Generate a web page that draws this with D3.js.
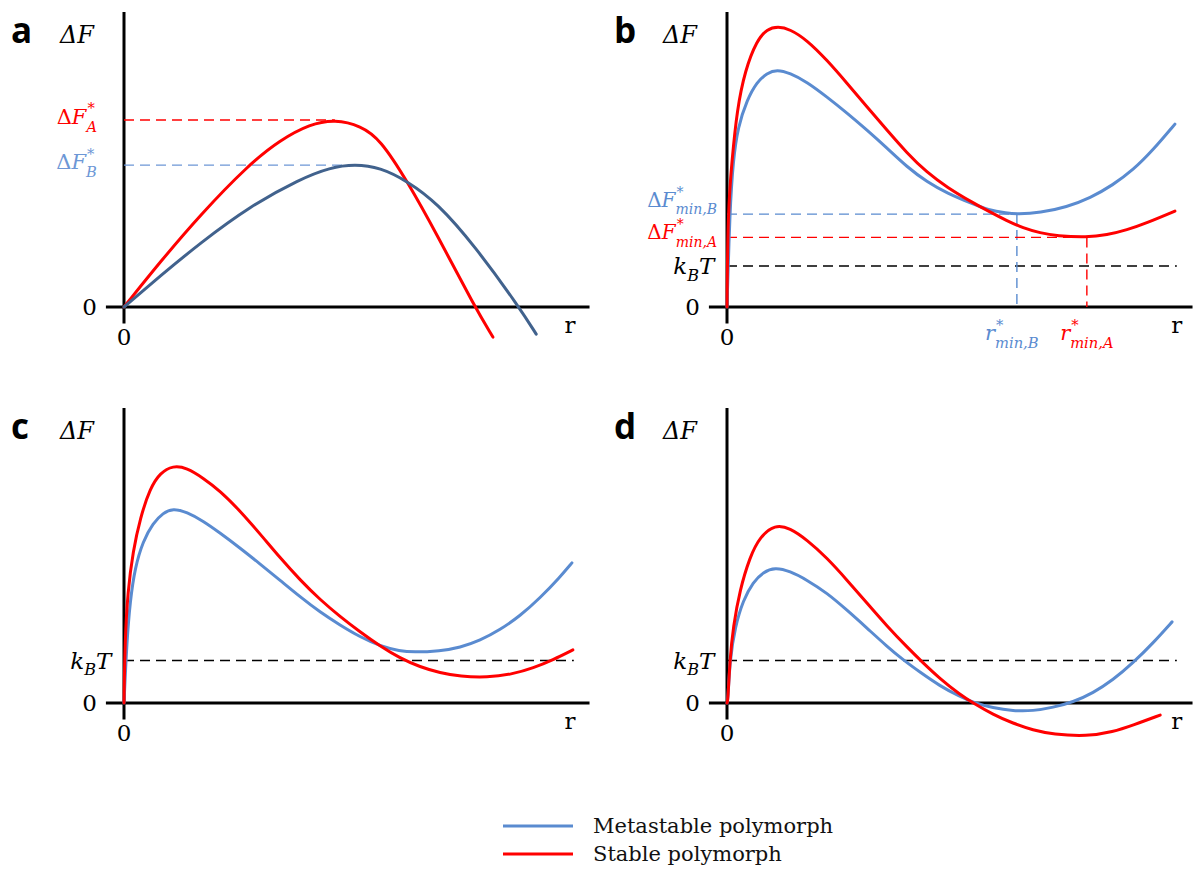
<!DOCTYPE html>
<html>
<head>
<meta charset="utf-8">
<script src="https://cdn.jsdelivr.net/npm/d3@7"></script>
<style>
  html, body { margin: 0; padding: 0; background: #fff; }
  svg { display: block; }
</style>
</head>
<body>
<svg id="chart" width="1196" height="870"></svg>
<script>
// ---------------- DATA (r, ΔF in arbitrary units) ----------------
const panelLetters = ["a", "b", "c", "d"];
const seriesNames = ["Metastable polymorph", "Stable polymorph"];

// Panel a: classical nucleation barriers
const aStable = [[0,0],[7.6,15.3],[16.0,31.2],[26.1,48.1],[32.8,56.6],[39.1,62.0],[44.3,63.6],[49.8,61.4],[53.8,56.9],[59.5,42.7],[65.8,24.4],[73.7,0],[77.5,-10.2]];
const aMeta   = [[0,0],[7.6,10.5],[16.0,21.7],[26.5,34.2],[37.0,43.4],[43.3,47.3],[48.5,48.4],[53.8,47.3],[59.5,42.7],[65.8,35.3],[73.7,20.7],[83.0,0],[86.6,-9.2]];
const aBarrier = { stable: [44.3, 63.4], meta: [48.5, 48.1] };

// Panel b
const bStable = [[0,0],[0.2,32.9],[1.05,49.8],[2.1,66.8],[3.8,80.3],[6.3,90.5],[8.4,94.2],[10.7,95.1],[13.2,94.2],[16.8,90.5],[21.0,83.7],[25.2,75.9],[29.4,67.8],[33.6,60.0],[37.8,52.2],[42.0,45.6],[46.2,40.6],[51.7,35.3],[54.8,32.6],[58.8,29.2],[62.2,26.8],[65.8,25.1],[69.3,24.1],[75.6,23.6],[79.8,24.4],[84.0,26.1],[88.2,28.5],[94.1,32.5]];
const bMeta   = [[0,0],[0.6,32.9],[1.3,49.8],[2.3,61.0],[4.2,70.2],[6.3,76.3],[8.4,79.3],[10.5,80.5],[13.2,79.3],[16.8,76.3],[21.0,71.2],[25.2,65.8],[29.4,60.0],[33.6,53.9],[37.8,47.5],[42.0,42.4],[46.2,38.6],[51.7,34.9],[54.8,32.9],[58.8,31.8],[60.9,31.5],[65.8,31.9],[71.4,33.9],[76.3,36.9],[81.1,41.4],[85.3,46.4],[89.5,53.2],[94.1,62.0]];
const bMinima = { meta: [60.9, 31.5], stable: [75.6, 23.6] };

// Panel c
const cStable = [[0,0],[0.2,21.0],[0.8,38.0],[1.9,51.5],[3.4,62.7],[5.5,72.9],[7.6,78.0],[10.3,80.5],[13.2,79.7],[16.6,76.3],[20.2,71.9],[24.4,65.1],[28.6,57.3],[32.8,49.2],[37.0,41.7],[41.2,35.0],[45.4,29.3],[49.6,24.1],[53.8,19.3],[58.0,15.2],[62.2,12.2],[66.4,10.2],[70.6,9.0],[76.3,8.6],[81.7,9.8],[86.0,11.9],[90.1,14.6],[94.3,18.0]];
const cMeta   = [[0,0],[0.6,21.0],[1.3,34.6],[2.3,45.8],[4.0,54.9],[6.1,61.0],[8.2,64.4],[10.3,66.0],[13.2,64.7],[16.6,61.7],[20.2,57.6],[24.4,52.5],[28.6,47.1],[32.8,41.6],[37.0,36.0],[41.2,30.8],[45.4,26.4],[49.6,22.4],[53.8,19.3],[58.0,17.6],[60.7,17.2],[66.4,17.6],[70.6,18.8],[74.8,21.2],[79.0,24.8],[83.2,29.5],[87.4,35.6],[91.6,42.7],[94.1,47.5]];

// Panel d
const dStable = [[0,0],[0.2,1.0],[0.6,14.6],[1.3,25.8],[2.7,38.3],[4.8,49.5],[6.9,56.3],[10.1,60.5],[13.2,59.3],[16.8,55.3],[21.0,49.2],[25.2,41.7],[29.4,33.9],[33.6,26.1],[37.8,19.0],[41.2,13.6],[44.7,8.3],[48.9,2.9],[51.7,0],[55.9,-3.9],[60.1,-6.9],[64.3,-9.2],[68.5,-10.6],[75.6,-11.3],[81.1,-9.8],[85.3,-7.5],[91.0,-4.1]];
const dMeta   = [[0,0],[0.2,1.0],[0.6,14.6],[1.7,25.8],[3.4,34.9],[5.5,41.0],[7.6,44.4],[10.1,46.0],[13.2,44.7],[16.8,41.7],[21.0,37.3],[25.2,31.5],[29.4,25.4],[33.6,19.2],[37.0,14.6],[40.5,10.5],[44.7,5.8],[48.9,2.2],[51.7,0.2],[55.9,-1.7],[60.1,-2.7],[64.3,-2.7],[68.5,-1.5],[72.7,0.3],[76.9,3.4],[81.1,7.8],[85.3,13.6],[89.5,20.3],[93.5,27.5]];

const kBTLevel = [null, 13.9, 14.4, 14.4];   // per panel (a has none)
const axisLabels = { y: "ΔF", x: "r", zero: "0" };

// ---------------- STYLE ----------------
const RED = "#ff0000";
const BLUE = "#5a8bd0";
const DASHBLUE = "#6d97d6";
const DARKBLUE = "#41628d";
const SERIF = "'DejaVu Serif', 'Liberation Serif', serif";
const SANS = "'Open Sans', 'Liberation Sans', sans-serif";

const svg = d3.select("#chart");

const panels = [
  { ox: 124, oy: 307 },
  { ox: 727, oy: 307 },
  { ox: 124, oy: 703 },
  { ox: 727, oy: 703 }
];

function makeScales(p) {
  const x = d3.scaleLinear().domain([0, 100]).range([p.ox, p.ox + 476]);
  const y = d3.scaleLinear().domain([0, 100]).range([p.oy, p.oy - 295]);
  return { x, y };
}

// math-like label in a single <text>: segments {t, it, kind:'n'|'sub'|'supsub', sup, sub}
function mathLabel(parent, x, y, segs, size, color, anchor) {
  const small = size * 0.7;
  const t = parent.append("text").attr("x", 0).attr("y", 0)
    .attr("font-family", SERIF).attr("font-size", size).attr("fill", color);
  let level = 0;
  const setLevel = (ts, target) => { ts.attr("dy", target - level); level = target; };
  segs.forEach(s => {
    if (s.kind === "supsub") {
      const sp = t.append("tspan").attr("font-size", small).text(s.sup);
      setLevel(sp, -size * 0.5);
      sp.attr("dx", 1);
      const w = sp.node().getComputedTextLength() + 1;
      const sb = t.append("tspan").attr("font-size", small).attr("font-style", "italic").text(s.sub);
      setLevel(sb, size * 0.36);
      sb.attr("dx", -w);
    } else if (s.kind === "sub") {
      const sb = t.append("tspan").attr("font-size", small).attr("font-style", s.it ? "italic" : "normal").text(s.t);
      setLevel(sb, size * 0.3);
    } else {
      const ts = t.append("tspan").attr("font-style", s.it ? "italic" : "normal").text(s.t);
      if (level !== 0) setLevel(ts, 0);
    }
  });
  const bb = t.node().getBBox();
  let dx;
  if (anchor === "end") dx = x - (bb.x + bb.width);
  else if (anchor === "middle") dx = x - (bb.x + bb.width / 2);
  else dx = x - bb.x;
  t.attr("transform", `translate(${dx},${y})`);
  return t;
}

const line = (sc) => d3.line().x(d => sc.x(d[0])).y(d => sc.y(d[1])).curve(d3.curveBasis);

function drawFrame(i) {
  const p = panels[i];
  const sc = makeScales(p);
  const g = svg.append("g");
  g.append("line").attr("x1", sc.x(-3.8)).attr("x2", sc.x(97.8)).attr("y1", sc.y(0)).attr("y2", sc.y(0))
    .attr("stroke", "#000").attr("stroke-width", 3);
  g.append("line").attr("x1", sc.x(0)).attr("x2", sc.x(0)).attr("y1", sc.y(-5.6)).attr("y2", sc.y(100))
    .attr("stroke", "#000").attr("stroke-width", 3);
  g.append("text").attr("x", sc.x(0) - 113).attr("y", sc.y(100) + 31)
    .attr("font-family", SANS).attr("font-weight", 700).attr("font-size", 35).attr("fill", "#000")
    .text(panelLetters[i]);
  g.append("text").attr("x", sc.x(0) - 64).attr("y", sc.y(100) + 31)
    .attr("font-family", SERIF).attr("font-style", "italic").attr("font-size", 24).attr("fill", "#000")
    .text(axisLabels.y);
  g.append("text").attr("x", sc.x(0) - 27).attr("y", sc.y(0) + 8)
    .attr("text-anchor", "end").attr("font-family", SERIF).attr("font-size", 23).text(axisLabels.zero);
  g.append("text").attr("x", sc.x(0)).attr("y", sc.y(0) + 38)
    .attr("text-anchor", "middle").attr("font-family", SERIF).attr("font-size", 23).text(axisLabels.zero);
  g.append("text").attr("x", sc.x(i % 2 === 0 ? 93.7 : 94.5)).attr("y", sc.y(0) + 26)
    .attr("text-anchor", "middle").attr("font-family", SERIF).attr("font-size", 23).text(axisLabels.x);
  return { g, sc };
}

function dashedH(g, sc, yv, x0, x1, color) {
  g.append("line").attr("x1", sc.x(x0)).attr("x2", sc.x(x1)).attr("y1", sc.y(yv)).attr("y2", sc.y(yv))
    .attr("stroke", color).attr("stroke-width", 1.4).attr("stroke-dasharray", "10,6");
}
function dashedV(g, sc, xv, y0, y1, color) {
  g.append("line").attr("x1", sc.x(xv)).attr("x2", sc.x(xv)).attr("y1", sc.y(y0)).attr("y2", sc.y(y1))
    .attr("stroke", color).attr("stroke-width", 1.4).attr("stroke-dasharray", "10,6");
}
function kBT(g, sc, level, x1) {
  dashedH(g, sc, level, 0, x1, "#000");
  mathLabel(g, sc.x(0) - 11, sc.y(level) + 8,
    [{ t: "k", it: true }, { t: "B", it: true, kind: "sub" }, { t: "T", it: true }], 23, "#000", "end");
}
function curve(g, sc, data, color) {
  g.append("path").datum(data).attr("d", line(sc)).attr("fill", "none")
    .attr("stroke", color).attr("stroke-width", 3).attr("stroke-linecap", "round");
}

// ---- Panel a ----
{
  const { g, sc } = drawFrame(0);
  dashedH(g, sc, aBarrier.stable[1], 0, aBarrier.stable[0], RED);
  dashedH(g, sc, aBarrier.meta[1], 0, aBarrier.meta[0], DASHBLUE);
  curve(g, sc, aStable, RED);
  curve(g, sc, aMeta, DARKBLUE);
  mathLabel(g, sc.x(0) - 27, sc.y(aBarrier.stable[1]) + 4,
    [{ t: "Δ" }, { t: "F", it: true }, { kind: "supsub", sup: "*", sub: "A" }], 21, RED, "end");
  mathLabel(g, sc.x(0) - 27, sc.y(aBarrier.meta[1]) + 4,
    [{ t: "Δ" }, { t: "F", it: true }, { kind: "supsub", sup: "*", sub: "B" }], 21, DASHBLUE, "end");
}

// ---- Panel b ----
{
  const { g, sc } = drawFrame(1);
  kBT(g, sc, kBTLevel[1], 94.5);
  dashedH(g, sc, bMinima.meta[1], 0, bMinima.meta[0], BLUE);
  dashedV(g, sc, bMinima.meta[0], bMinima.meta[1], 0, BLUE);
  dashedH(g, sc, bMinima.stable[1], 0, bMinima.stable[0], RED);
  dashedV(g, sc, bMinima.stable[0], bMinima.stable[1], 0, RED);
  curve(g, sc, bMeta, BLUE);
  curve(g, sc, bStable, RED);
  mathLabel(g, sc.x(0) - 10, sc.y(bMinima.meta[1]) - 7,
    [{ t: "Δ" }, { t: "F", it: true }, { kind: "supsub", sup: "*", sub: "min,B" }], 20, BLUE, "end");
  mathLabel(g, sc.x(0) - 10, sc.y(bMinima.stable[1]) + 2,
    [{ t: "Δ" }, { t: "F", it: true }, { kind: "supsub", sup: "*", sub: "min,A" }], 20, RED, "end");
  mathLabel(g, sc.x(bMinima.meta[0]) - 5, sc.y(0) + 33,
    [{ t: "r", it: true }, { kind: "supsub", sup: "*", sub: "min,B" }], 21, BLUE, "middle");
  mathLabel(g, sc.x(bMinima.stable[0]), sc.y(0) + 33,
    [{ t: "r", it: true }, { kind: "supsub", sup: "*", sub: "min,A" }], 21, RED, "middle");
}

// ---- Panel c ----
{
  const { g, sc } = drawFrame(2);
  kBT(g, sc, kBTLevel[2], 94.5);
  curve(g, sc, cMeta, BLUE);
  curve(g, sc, cStable, RED);
}

// ---- Panel d ----
{
  const { g, sc } = drawFrame(3);
  kBT(g, sc, kBTLevel[3], 94.5);
  curve(g, sc, dMeta, BLUE);
  curve(g, sc, dStable, RED);
}

// ---- Legend ----
{
  const lg = svg.append("g");
  const colors = [BLUE, RED];
  const ys = [826, 854];
  seriesNames.forEach((name, i) => {
    lg.append("line").attr("x1", 503).attr("x2", 573).attr("y1", ys[i]).attr("y2", ys[i])
      .attr("stroke", colors[i]).attr("stroke-width", 3);
    lg.append("text").attr("x", 593).attr("y", ys[i] + 7)
      .attr("font-family", SERIF).attr("font-size", 21).attr("fill", "#111").text(name);
  });
}
</script>
</body>
</html>
